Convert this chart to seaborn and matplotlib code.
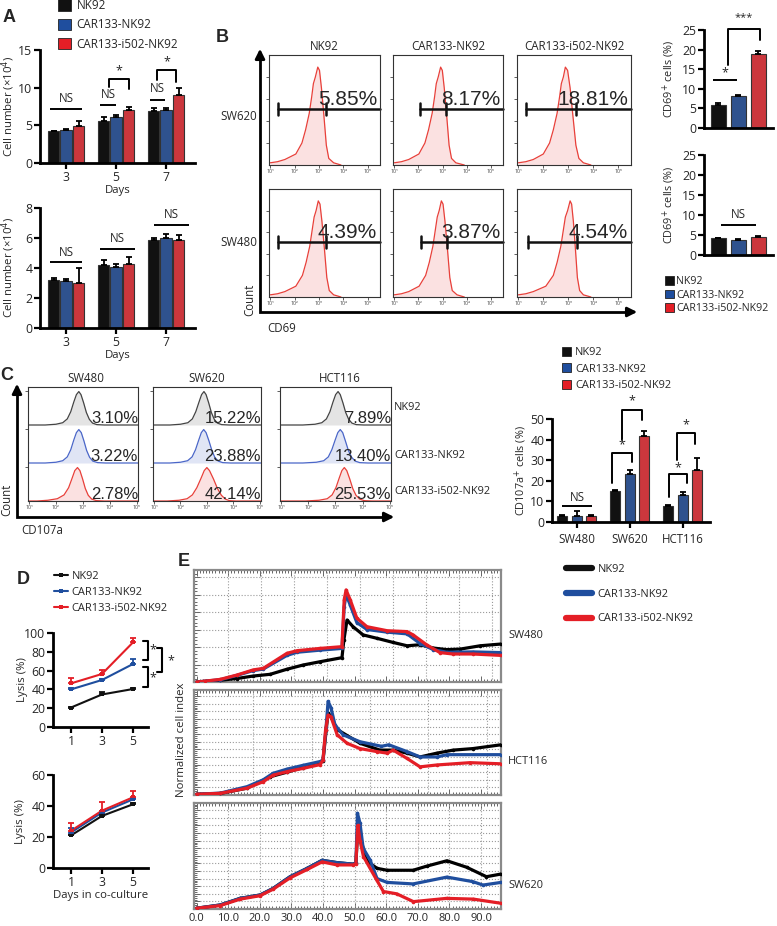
import numpy as np
import pandas as pd
import matplotlib
matplotlib.use('Agg')
import matplotlib.pyplot as plt
import seaborn as sns
from matplotlib.patches import Patch
from matplotlib.lines import Line2D
from matplotlib.ticker import MultipleLocator

sns.set_style('white')
plt.rcParams['font.family'] = ['Open Sans', 'DejaVu Sans']
plt.rcParams['mathtext.fontset'] = 'dejavusans'
plt.rcParams['axes.unicode_minus'] = False

# ------------------------------------------------------------------ data
GROUPS = ['NK92', 'CAR133-NK92', 'CAR133-i502-NK92']
COLORS = ['#111111', '#1f4e9e', '#e41e26']

# Panel A
A_DAYS = ['3', '5', '7']
A1_MEAN = [[4.2, 5.6, 6.9], [4.4, 6.05, 7.0], [4.9, 7.0, 9.0]]
A1_ERR = [[0.1, 0.5, 0.4], [0.1, 0.35, 0.3], [0.7, 0.5, 0.9]]
A2_MEAN = [[3.2, 4.2, 5.87], [3.15, 4.05, 5.98], [3.0, 4.3, 5.87]]
A2_ERR = [[0.15, 0.35, 0.15], [0.1, 0.25, 0.3], [1.0, 0.45, 0.3]]

# Panel B
B_ROWS = ['SW620', 'SW480']
B_PCT = [['5.85%', '8.17%', '18.81%'], ['4.39%', '3.87%', '4.54%']]
B_GATE_L = [[1.3, 2.06, 1.3], [1.3, 2.1, 1.4]]
B_GATE_M = [[3.3, 3.15, 3.3], [3.3, 3.2, 3.35]]
B_HIST_Y = [0.02, 0.03, 0.05, 0.10, 0.20, 0.32, 0.47, 0.62, 0.74, 0.80, 0.89, 0.86, 0.70, 0.45, 0.18, 0.06, 0.02, 0.0]
B_HIST_X = [
    [[1.0, 1.3, 1.6, 2.05, 2.3, 2.45, 2.6, 2.7, 2.77, 2.85, 2.95, 3.02, 3.1, 3.2, 3.3, 3.4, 3.6, 3.9],
     [1.0, 1.3, 1.6, 2.02, 2.27, 2.42, 2.57, 2.67, 2.74, 2.82, 2.92, 2.99, 3.07, 3.17, 3.27, 3.37, 3.55, 3.9],
     [1.0, 1.3, 1.6, 2.0, 2.25, 2.4, 2.55, 2.65, 2.72, 2.8, 2.88, 2.97, 3.07, 3.18, 3.3, 3.42, 3.6, 3.9]],
    [[1.0, 1.3, 1.6, 2.05, 2.32, 2.47, 2.62, 2.72, 2.8, 2.88, 2.97, 3.04, 3.12, 3.22, 3.32, 3.42, 3.6, 3.9],
     [1.0, 1.3, 1.6, 2.03, 2.3, 2.45, 2.6, 2.7, 2.78, 2.86, 2.95, 3.02, 3.1, 3.2, 3.3, 3.4, 3.6, 3.9],
     [1.0, 1.3, 1.6, 2.1, 2.4, 2.55, 2.7, 2.8, 2.88, 2.97, 3.07, 3.13, 3.2, 3.28, 3.36, 3.45, 3.6, 3.9]],
]
B_SW620_MEAN = [5.8, 8.1, 18.8]
B_SW620_ERR = [0.5, 0.2, 0.8]
B_SW480_MEAN = [4.3, 3.8, 4.5]
B_SW480_ERR = [0.05, 0.15, 0.2]

# Panel C
C_LINES = ['SW480', 'SW620', 'HCT116']
C_PCT = [['3.10%', '15.22%', '7.89%'], ['3.22%', '23.88%', '13.40%'], ['2.78%', '42.14%', '25.53%']]
C_HIST_Y = [0.0, 0.0, 0.02, 0.06, 0.16, 0.35, 0.6, 0.8, 0.88, 0.8, 0.58, 0.33, 0.15, 0.05, 0.01, 0.0, 0.0]
C_HIST_X = [  # [group][cell line]
    [[0.9, 1.6, 2.0, 2.25, 2.42, 2.55, 2.66, 2.76, 2.85, 2.93, 3.03, 3.13, 3.24, 3.36, 3.52, 3.8, 5.2],
     [0.9, 1.6, 2.0, 2.28, 2.45, 2.58, 2.7, 2.8, 2.89, 2.97, 3.07, 3.17, 3.28, 3.4, 3.56, 3.85, 5.2],
     [0.9, 1.8, 2.25, 2.5, 2.67, 2.8, 2.91, 3.01, 3.1, 3.18, 3.28, 3.38, 3.49, 3.61, 3.77, 4.05, 5.2]],
    [[0.9, 1.6, 2.0, 2.25, 2.42, 2.55, 2.66, 2.76, 2.85, 2.94, 3.04, 3.14, 3.25, 3.37, 3.55, 3.85, 5.2],
     [0.9, 1.6, 2.0, 2.27, 2.44, 2.57, 2.69, 2.79, 2.88, 2.97, 3.08, 3.19, 3.3, 3.43, 3.6, 3.9, 5.2],
     [0.9, 1.8, 2.3, 2.57, 2.74, 2.87, 2.99, 3.09, 3.18, 3.27, 3.37, 3.48, 3.6, 3.73, 3.9, 4.2, 5.2]],
    [[0.9, 1.3, 1.7, 2.05, 2.3, 2.47, 2.6, 2.7, 2.8, 2.89, 2.99, 3.09, 3.2, 3.33, 3.5, 3.8, 5.2],
     [0.9, 1.5, 1.95, 2.25, 2.45, 2.62, 2.78, 2.9, 3.0, 3.1, 3.25, 3.4, 3.55, 3.7, 3.85, 4.1, 5.2],
     [0.9, 1.9, 2.4, 2.7, 2.88, 3.02, 3.14, 3.24, 3.33, 3.42, 3.53, 3.64, 3.76, 3.9, 4.06, 4.35, 5.2]],
]
C_MEAN = [[2.9, 15.1, 7.7], [2.9, 23.5, 13.0], [2.8, 41.9, 25.1]]
C_ERR = [[0.3, 0.5, 0.5], [2.4, 1.5, 1.6], [0.4, 2.5, 5.9]]

# Panel D
D_DAYS = [1, 3, 5]
D1_MEAN = [[20.7, 34.6, 40.4], [40.0, 50.0, 67.0], [46.4, 56.4, 90.0]]
D1_ERR = [[0.8, 2.2, 1.6], [1.5, 1.5, 5.0], [5.4, 4.3, 4.6]]
D2_MEAN = [[21.0, 33.6, 41.1], [22.9, 35.8, 44.3], [24.0, 37.0, 45.6]]
D2_ERR = [[0.5, 1.0, 1.0], [3.1, 1.0, 1.0], [5.3, 5.4, 4.3]]

# Panel E (time in h, normalized cell index in grid units)
E_ROWS = ['SW480', 'HCT116', 'SW620']
E_T = [
    [[0, 7.5, 12.8, 17.9, 23.3, 28.6, 33.7, 39.1, 46.0, 46.6, 47.6, 49.5, 52.7, 57.0, 62.2, 66.6, 70.7, 74.9, 79.2, 83.4, 89.7, 96.3],
     [0, 7.5, 12.8, 17.9, 21.1, 28.6, 31.8, 39.1, 46.0, 46.7, 47.3, 48.6, 50.7, 53.9, 60.3, 66.6, 70.7, 74.9, 79.2, 87.4, 96.3],
     [0, 2.7, 7.5, 12.8, 17.9, 21.1, 28.6, 31.8, 39.1, 46.0, 46.7, 47.3, 48.6, 50.7, 53.9, 60.3, 66.6, 68.5, 72.9, 77.0, 81.1, 87.4, 96.3]],
    [[0, 7.5, 16.0, 23.3, 28.6, 33.7, 39.1, 40.0, 41.0, 41.6, 42.5, 44.5, 51.7, 58.0, 62.2, 66.6, 70.7, 76.0, 81.2, 87.4, 96.3],
     [0, 7.5, 16.0, 21.1, 24.2, 28.6, 33.7, 39.1, 40.0, 41.0, 41.6, 42.5, 43.8, 46.4, 51.7, 58.5, 60.8, 66.6, 70.7, 76.1, 79.2, 96.3],
     [0, 7.5, 16.0, 21.1, 24.2, 28.6, 33.7, 39.1, 40.0, 40.8, 41.6, 42.5, 44.5, 47.6, 51.7, 57.1, 60.3, 62.2, 66.6, 70.7, 76.1, 86.5, 96.3]],
    [[0, 7.5, 13.8, 20.1, 24.2, 29.6, 35.0, 39.7, 44.5, 49.5, 50.4, 51.0, 51.7, 53.9, 57.1, 60.3, 68.5, 72.9, 79.2, 85.4, 91.7, 96.3],
     [0, 7.5, 13.8, 20.1, 24.2, 29.6, 35.0, 39.7, 44.5, 49.5, 50.4, 50.9, 51.7, 52.7, 54.9, 57.1, 60.3, 68.5, 79.2, 87.4, 90.6, 96.3],
     [0, 7.5, 13.8, 20.1, 24.2, 29.6, 35.0, 39.7, 44.5, 49.5, 50.4, 51.0, 51.7, 52.8, 57.0, 59.1, 63.3, 68.6, 79.1, 87.6, 96.3]],
]
E_Y = [
    [[0.0, 0.1, 0.2, 0.34, 0.44, 0.73, 0.97, 1.16, 1.39, 2.4, 3.54, 3.16, 2.69, 2.5, 2.26, 2.07, 2.13, 1.94, 1.85, 1.88, 2.07, 2.17],
     [0.0, 0.13, 0.38, 0.65, 0.74, 1.52, 1.7, 1.82, 1.92, 4.3, 5.0, 4.4, 3.4, 3.0, 2.85, 2.75, 2.2, 1.85, 1.7, 1.72, 1.68],
     [0.0, 0.05, 0.15, 0.4, 0.69, 0.78, 1.64, 1.79, 1.92, 2.02, 4.7, 5.26, 4.7, 3.65, 3.16, 2.93, 2.88, 2.69, 2.11, 1.68, 1.6, 1.6, 1.52]],
    [[0.1, 0.2, 0.9, 2.4, 3.0, 3.6, 4.3, 4.5, 8.5, 10.8, 10.3, 8.6, 6.8, 5.9, 5.9, 5.5, 5.0, 5.5, 5.9, 6.1, 6.6],
     [0.1, 0.25, 1.1, 2.0, 2.85, 3.4, 3.9, 4.4, 4.6, 9.0, 12.3, 11.5, 9.2, 7.9, 7.0, 6.4, 6.6, 5.7, 5.0, 5.0, 5.3, 5.3],
     [0.1, 0.22, 0.9, 1.75, 2.6, 3.07, 3.5, 4.0, 4.6, 8.5, 10.5, 10.3, 7.9, 6.8, 6.1, 5.7, 5.5, 5.9, 4.8, 3.7, 3.95, 4.25, 4.1]],
    [[0.1, 0.53, 1.4, 1.84, 2.7, 4.25, 5.35, 6.4, 6.1, 5.9, 6.0, 10.5, 9.5, 6.3, 5.35, 5.1, 5.1, 5.65, 6.35, 5.5, 4.25, 4.6],
     [0.1, 0.53, 1.4, 1.84, 2.7, 4.25, 5.35, 6.4, 6.1, 5.9, 6.0, 12.6, 11.3, 8.0, 6.45, 4.0, 3.5, 3.3, 4.2, 3.6, 3.15, 3.5],
     [0.1, 0.45, 1.3, 1.75, 2.6, 4.1, 5.2, 6.2, 5.8, 5.8, 5.9, 11.0, 9.0, 6.9, 3.8, 2.3, 2.0, 0.97, 1.4, 1.3, 0.75]],
]
E_XTICKS = [0, 10, 20, 30, 40, 50, 60, 70, 80, 90]
E_XTICKLABELS = ['0.0', '10.0', '20.0', '30.0', '40.0', '50.0', '60.0', '70.0', '80.0', '90.0']

# ------------------------------------------------------------------ figure
W, H = 777, 926
fig = plt.figure(figsize=(W / 100, H / 100), dpi=100)

TICK_FS = 8.8
LABEL_FS = 7.8
LEG_FS = 7.9


def add_ax(x0, y0, x1, y1):
    ax = fig.add_axes([x0 / W, 1 - y1 / H, (x1 - x0) / W, (y1 - y0) / H])
    ax.set_facecolor('none')
    ax._px = (x0, x1)
    return ax


def place_ylabel(ax, text, xpx_right, fs=LABEL_FS):
    # xpx_right: pixel x of the label's right edge
    ax.set_ylabel(text, fontsize=fs)
    x0, x1 = ax._px
    ax.yaxis.set_label_coords((xpx_right - x0) / (x1 - x0), 0.5)


def style_bar_ax(ax, ylim, yticks, xlim):
    ax.set_ylim(*ylim)
    ax.set_xlim(*xlim)
    ax.set_yticks(yticks)
    sns.despine(ax=ax)
    for s in ('left', 'bottom'):
        ax.spines[s].set_linewidth(2.0)
        ax.spines[s].set_color('k')
    ax.tick_params(axis='both', direction='out', length=4, width=1.6, labelsize=TICK_FS,
                   pad=1.5, color='k', bottom=True, left=True)
    ax.set_xlabel('')
    ax.set_ylabel('')


def add_errs(ax, errs):
    for cont, es in zip(ax.containers, errs):
        for bar, e in zip(cont, es):
            x = bar.get_x() + bar.get_width() / 2
            h = bar.get_height()
            ax.errorbar([x], [h], yerr=[[0], [e]], fmt='none', ecolor='k', elinewidth=1.3,
                        capsize=2.5, capthick=1.3, zorder=4)


def grouped_bars(ax, cats, means, errs, width, gap):
    rows = []
    for g, m in zip(GROUPS, means):
        for c, v in zip(cats, m):
            rows.append((c, g, v))
    df = pd.DataFrame(rows, columns=['cat', 'group', 'val'])
    sns.barplot(data=df, x='cat', y='val', hue='group', order=cats, hue_order=GROUPS,
                palette=COLORS, width=width, gap=gap, errorbar=None, edgecolor='#333333',
                linewidth=0.8, legend=False, ax=ax)
    add_errs(ax, errs)


def single_bars(ax, means, errs):
    df = pd.DataFrame({'group': GROUPS, 'val': means})
    sns.barplot(data=df, x='group', y='val', hue='group', order=GROUPS, hue_order=GROUPS,
                palette=COLORS, width=0.75, errorbar=None, edgecolor='#333333', linewidth=0.8,
                legend=False, ax=ax)
    add_errs(ax, [[e] for e in errs])


def sig_line(ax, x0, x1, y, txt, ty, fs=8.3):
    ax.plot([x0, x1], [y, y], color='k', lw=1.4, clip_on=False, solid_capstyle='butt')
    ax.text((x0 + x1) / 2, ty, txt, ha='center', va='center', fontsize=fs, clip_on=False)


def sig_bracket(ax, x0, x1, yl, ytop, yr, txt, ty, fs=9):
    ax.plot([x0, x0, x1, x1], [yl, ytop, ytop, yr], color='k', lw=1.4, clip_on=False)
    ax.text((x0 + x1) / 2, ty, txt, ha='center', va='center', fontsize=fs, clip_on=False)


# ---------------- Panel A
axA1 = add_ax(40, 50, 195, 163)
grouped_bars(axA1, A_DAYS, A1_MEAN, A1_ERR, width=0.75, gap=0.05)
style_bar_ax(axA1, (0, 15), [0, 5, 10, 15], (-0.52, 2.58))
axA1.set_xlabel('Days', fontsize=LABEL_FS + 0.4, labelpad=1)
place_ylabel(axA1, 'Cell number (×10$^4$)', 17, fs=8.2)
sig_line(axA1, -0.32, 0.32, 7.2, 'NS', 8.6)
sig_line(axA1, 0.68, 1.0, 7.7, 'NS', 9.1)
sig_bracket(axA1, 0.85, 1.25, 10.1, 11.2, 9.8, '*', 12.2)
sig_line(axA1, 1.68, 1.98, 8.4, 'NS', 9.9)
sig_bracket(axA1, 1.82, 2.2, 11.0, 12.4, 10.8, '*', 13.4)

axA2 = add_ax(40, 208, 195, 328)
grouped_bars(axA2, A_DAYS, A2_MEAN, A2_ERR, width=0.75, gap=0.05)
style_bar_ax(axA2, (0, 8), [0, 2, 4, 6, 8], (-0.52, 2.58))
axA2.set_xlabel('Days', fontsize=LABEL_FS + 0.4, labelpad=1)
place_ylabel(axA2, 'Cell number (×10$^4$)', 17, fs=8.2)
sig_line(axA2, -0.32, 0.32, 4.4, 'NS', 5.0)
sig_line(axA2, 0.68, 1.38, 5.3, 'NS', 5.95)
sig_line(axA2, 1.76, 2.46, 6.9, 'NS', 7.55)

fig.legend(handles=[Patch(fc=c, ec='#222222', lw=0.6) for c in COLORS], labels=GROUPS,
           loc='upper left', bbox_to_anchor=(58 / W, 1 + 1 / H), frameon=False, fontsize=8.4,
           handlelength=1.1, handleheight=1.1, labelspacing=0.55, handletextpad=0.5,
           borderpad=0, borderaxespad=0)

# ---------------- Panel B histograms
B_COLS = [(269, 380), (393, 503), (517, 631)]
B_ROWY = [(55, 165), (189, 297)]
HIST_TICKS = [10, 100, 1000, 10000, 100000]
HIST_TICKLABELS = ['10¹', '10²', '10³', '10⁴', '10⁵']
for r in range(2):
    for c in range(3):
        ax = add_ax(B_COLS[c][0], B_ROWY[r][0], B_COLS[c][1], B_ROWY[r][1])
        xs = 10 ** np.array(B_HIST_X[r][c])
        ax.fill_between(xs, B_HIST_Y, color='#fbe1e1', lw=0)
        ax.plot(xs, B_HIST_Y, color='#e8403a', lw=0.9)
        ax.set_xscale('log')
        ax.set_xlim(10 ** 0.95, 10 ** 5.5)
        ax.set_ylim(0, 1.0)
        ax.set_xticks(HIST_TICKS)
        ax.set_xticklabels(HIST_TICKLABELS, fontsize=3.8, color='#444444')
        ax.xaxis.set_minor_locator(matplotlib.ticker.NullLocator())
        ax.set_yticks([0.2, 0.4, 0.6, 0.8])
        ax.set_yticklabels([])
        ax.tick_params(length=2, width=0.6, pad=1, left=True, bottom=True, color='#444444')
        for s in ax.spines.values():
            s.set_linewidth(0.8)
            s.set_color('#333333')
        gl, gm = 10 ** B_GATE_L[r][c], 10 ** B_GATE_M[r][c]
        ax.plot([gl, 10 ** 5.5], [0.51, 0.51], color='#111111', lw=1.8, clip_on=False)
        ax.plot([gl, gl], [0.455, 0.565], color='#111111', lw=1.8)
        ax.plot([gm, gm], [0.455, 0.565], color='#111111', lw=1.8)
        ax.text(0.975, 0.545, B_PCT[r][c], transform=ax.transAxes, ha='right', va='baseline',
                fontsize=15, family='Liberation Sans')

# ---------------- Panel B bars
axB1 = add_ax(704, 30, 773, 128)
single_bars(axB1, B_SW620_MEAN, B_SW620_ERR)
style_bar_ax(axB1, (0, 25), [0, 5, 10, 15, 20, 25], (-0.7, 2.75))
axB1.set_xticks([])
place_ylabel(axB1, 'CD69$^{+}$ cells (%)', 677)
sig_line(axB1, -0.25, 0.95, 12.2, '*', 14.2, fs=9)
sig_bracket(axB1, 0.5, 2.1, 16.0, 25.2, 22.4, '***', 28.2, fs=8)

axB2 = add_ax(704, 155, 773, 255)
single_bars(axB2, B_SW480_MEAN, B_SW480_ERR)
style_bar_ax(axB2, (0, 25), [0, 5, 10, 15, 20, 25], (-0.7, 2.75))
axB2.set_xticks([])
place_ylabel(axB2, 'CD69$^{+}$ cells (%)', 677)
sig_line(axB2, 0.15, 1.9, 7.5, 'NS', 10.0)

fig.legend(handles=[Patch(fc=c, ec='#222222', lw=0.6) for c in COLORS], labels=GROUPS,
           loc='upper left', bbox_to_anchor=(665 / W, 1 - 276 / H), frameon=False, fontsize=7.7,
           handlelength=0.85, handleheight=0.85, labelspacing=0.25, handletextpad=0.2,
           borderpad=0, borderaxespad=0)

# ---------------- Panel C histograms
C_COLS = [(28, 138), (153, 261), (280, 391)]
C_LINE = ['#444444', '#4a66c8', '#e8403a']
C_FILL = ['#e4e4e4', '#e0e5f5', '#fbe1e1']
for c in range(3):
    ax = add_ax(C_COLS[c][0], 387, C_COLS[c][1], 501)
    for g in range(3):
        off = 2 - g
        xs = 10 ** np.array(C_HIST_X[g][c])
        ys = off + np.array(C_HIST_Y)
        ax.fill_between(xs, off, ys, color=C_FILL[g], lw=0)
        ax.plot(xs, ys, color=C_LINE[g], lw=0.9)
        ax.text(1.0, off + 0.06, C_PCT[g][c], transform=ax.get_yaxis_transform(), ha='right',
                va='baseline', fontsize=12, family='Liberation Sans')
    ax.set_xscale('log')
    ax.set_xlim(10 ** 0.96, 10 ** 5.05)
    ax.set_ylim(0, 3)
    ax.set_xticks(HIST_TICKS)
    ax.set_xticklabels(HIST_TICKLABELS, fontsize=3.8, color='#444444')
    ax.xaxis.set_minor_locator(matplotlib.ticker.NullLocator())
    ax.set_yticks([0.9, 1.9, 2.9])
    ax.set_yticklabels([])
    ax.tick_params(length=2, width=0.6, pad=1, left=True, bottom=True, color='#444444')
    for s in ax.spines.values():
        s.set_linewidth(0.8)
        s.set_color('#333333')

# ---------------- Panel C bars
axC = add_ax(552, 419, 710, 522)
grouped_bars(axC, C_LINES, C_MEAN, C_ERR, width=0.82, gap=0.31)
style_bar_ax(axC, (0, 50), [0, 10, 20, 30, 40, 50], (-0.47, 2.51))
axC.tick_params(axis='x', labelsize=8.3, pad=4)
place_ylabel(axC, 'CD107a$^{+}$ cells (%)', 529)
sig_line(axC, -0.28, 0.28, 7.7, 'NS', 11.8)
sig_bracket(axC, 0.66, 1.04, 19.0, 33.5, 29.0, '*', 37.5)
sig_bracket(axC, 0.85, 1.23, 40.0, 54.6, 49.6, '*', 58.8)
sig_bracket(axC, 1.74, 2.07, 12.2, 23.2, 18.7, '*', 26.5)
sig_bracket(axC, 1.89, 2.23, 30.3, 43.1, 38.0, '*', 47.2)

fig.legend(handles=[Patch(fc=c, ec='#222222', lw=0.6) for c in COLORS], labels=GROUPS,
           loc='upper left', bbox_to_anchor=(562 / W, 1 - 347 / H), frameon=False, fontsize=LEG_FS,
           handlelength=0.85, handleheight=0.85, labelspacing=0.48, handletextpad=0.35,
           borderpad=0, borderaxespad=0)

# ---------------- Panel D
def lysis_plot(ax, means, errs):
    rows = []
    for g, m in zip(GROUPS, means):
        for d, v in zip(D_DAYS, m):
            rows.append((d, g, v))
    df = pd.DataFrame(rows, columns=['day', 'group', 'val'])
    sns.lineplot(data=df, x='day', y='val', hue='group', hue_order=GROUPS, palette=COLORS,
                 marker='s', markersize=3.5, markeredgewidth=0, lw=1.5, errorbar=None,
                 legend=False, ax=ax)
    for g, (m, e) in enumerate(zip(means, errs)):
        ax.errorbar(D_DAYS, m, yerr=[[0] * len(e), e], fmt='none', ecolor=COLORS[g],
                    elinewidth=1.3, capsize=2.5, capthick=1.3)


axD1 = add_ax(53, 633, 148, 727)
lysis_plot(axD1, D1_MEAN, D1_ERR)
style_bar_ax(axD1, (0, 100), [0, 20, 40, 60, 80, 100], (-0.16, 5.97))
axD1.set_xticks(D_DAYS)
place_ylabel(axD1, 'Lysis (%)', 28, fs=8.2)
for (yt, yb) in [(91.8, 71.3), (63.5, 42.9)]:
    axD1.plot([5.65, 5.97, 5.97, 5.65], [yt, yt, yb, yb], color='k', lw=1.5, clip_on=False)
axD1.text(6.3, 82, '*', fontsize=9, ha='center', va='center', clip_on=False)
axD1.text(6.3, 52, '*', fontsize=9, ha='center', va='center', clip_on=False)
axD1.plot([6.55, 6.9, 6.9, 6.55], [84, 84, 58.5, 58.5], color='k', lw=1.5, clip_on=False)
axD1.text(7.45, 70, '*', fontsize=9, ha='center', va='center', clip_on=False)

axD2 = add_ax(53, 775, 148, 868)
lysis_plot(axD2, D2_MEAN, D2_ERR)
style_bar_ax(axD2, (0, 60), [0, 20, 40, 60], (-0.16, 5.97))
axD2.set_xticks(D_DAYS)
place_ylabel(axD2, 'Lysis (%)', 26, fs=8.2)
axD2.set_xlabel('Days in co-culture', fontsize=LABEL_FS + 0.4, labelpad=1)

fig.legend(handles=[Line2D([], [], color=c, lw=1.5, marker='s', markersize=3, markeredgewidth=0)
                    for c in COLORS], labels=GROUPS,
           loc='upper left', bbox_to_anchor=(54 / W, 1 - 571 / H), frameon=False, fontsize=LEG_FS,
           handlelength=1.3, labelspacing=0.45, handletextpad=0.3, borderpad=0, borderaxespad=0)

# ---------------- Panel E
E_BOX = [(570, 682), (690, 795), (803, 909)]
E_YLIM = [6.4, 13.8, 13.95]
E_VGRID = [[10, 20.4, 30.8, 41.3, 51.7, 62.2, 72.6, 83.1, 93.5],
           [17.9, 36.5, 54.9, 73.3, 91.9],
           [10, 20, 30, 40, 50, 60, 70, 80, 90]]
E_ORDER = [[0, 1, 2], [0, 1, 2], [2, 0, 1]]
E_MINOR_Y = [0.2, 0.25, 0.25]
for p in range(3):
    ax = add_ax(194, E_BOX[p][0], 501, E_BOX[p][1])
    for g in E_ORDER[p]:
        sns.lineplot(x=E_T[p][g], y=E_Y[p][g], ax=ax, color=COLORS[g] if g else '#000000',
                     lw=2.3, marker='o', markersize=2.6, markeredgewidth=0, zorder=3 + g)
    ax.set_xlim(-0.8, 96.3)
    ax.set_ylim(0, E_YLIM[p])
    ax.yaxis.set_major_locator(MultipleLocator(1))
    ax.yaxis.set_minor_locator(MultipleLocator(E_MINOR_Y[p]))
    ax.xaxis.set_minor_locator(MultipleLocator(1))
    ax.grid(axis='y', ls=':', color='#9a9a9a', lw=0.8)
    for v in E_VGRID[p]:
        ax.axvline(v, ls=':', color='#9a9a9a', lw=0.8, zorder=1)
    ax.set_xticks(E_XTICKS)
    ax.tick_params(axis='both', which='both', direction='in', top=True, bottom=True, left=True,
                   right=False, color='#666666', width=0.7)
    ax.tick_params(which='major', length=4)
    ax.tick_params(which='minor', length=2.5)
    ax.tick_params(labelleft=False)
    if p == 2:
        ax.set_xticklabels(E_XTICKLABELS, fontsize=8)
        ax.tick_params(axis='x', pad=3)
    else:
        ax.tick_params(labelbottom=False)
    for s in ax.spines.values():
        s.set_linewidth(1.6)
        s.set_color('#8a8a8a')
    ax.set_xlabel('')
    ax.set_ylabel('')

fig.text(508 / W, 1 - 635 / H, 'SW480', fontsize=LEG_FS, va='center')
fig.text(508 / W, 1 - 761 / H, 'HCT116', fontsize=LEG_FS, va='center')
fig.text(508 / W, 1 - 886 / H, 'SW620', fontsize=LEG_FS, va='center')
fig.text(181 / W, 1 - 740 / H, 'Normalized cell index', fontsize=8.2, rotation=90,
         ha='center', va='center')

fig.legend(handles=[Line2D([], [], color=c, lw=4.5) for c in COLORS], labels=GROUPS,
           loc='upper left', bbox_to_anchor=(566 / W, 1 - 564 / H), frameon=False, fontsize=LEG_FS,
           handlelength=2.4, labelspacing=1.25, handletextpad=0.5, borderpad=0, borderaxespad=0)

# ---------------- overlay: panel letters, frames, labels
ov = fig.add_axes([0, 0, 1, 1])
ov.set_xlim(0, W)
ov.set_ylim(H, 0)
ov.axis('off')

for letter, (x, y) in zip('ABCDE', [(9, 18), (222, 38), (7, 375), (23, 580), (184, 562)]):
    ov.text(x, y, letter, fontsize=13, fontweight='bold', ha='center', va='center',
            family='Liberation Sans')

# panel B frame
ov.plot([260, 260, 628], [58, 312, 312], color='k', lw=2, solid_joinstyle='miter')
ov.annotate('', xy=(260, 46), xytext=(260, 62),
            arrowprops=dict(arrowstyle='-|>', color='k', lw=2, mutation_scale=14))
ov.annotate('', xy=(640, 312), xytext=(624, 312),
            arrowprops=dict(arrowstyle='-|>', color='k', lw=2, mutation_scale=14))
for name, x in zip(GROUPS, [324, 448, 574]):
    ov.text(x, 46, name, fontsize=8.3, ha='center', va='center')
ov.text(257, 117, 'SW620', fontsize=8.3, ha='right', va='center')
ov.text(257, 243, 'SW480', fontsize=8.3, ha='right', va='center')
ov.text(250, 300, 'Count', fontsize=8.3, rotation=90, ha='center', va='center')
ov.text(267, 329, 'CD69', fontsize=8.3, ha='left', va='center')

# panel C frame
ov.plot([17, 17, 384], [393, 517, 517], color='k', lw=2, solid_joinstyle='miter')
ov.annotate('', xy=(17, 381), xytext=(17, 396),
            arrowprops=dict(arrowstyle='-|>', color='k', lw=2, mutation_scale=14))
ov.annotate('', xy=(397, 517), xytext=(382, 517),
            arrowprops=dict(arrowstyle='-|>', color='k', lw=2, mutation_scale=14))
for name, x in zip(C_LINES, [86, 207, 340]):
    ov.text(x, 379, name, fontsize=8.3, ha='center', va='center')
for name, y in zip(GROUPS, [407, 455, 492]):
    ov.text(394, y, name, fontsize=LEG_FS, ha='left', va='center')
ov.text(7, 500, 'Count', fontsize=8.3, rotation=90, ha='center', va='center')
ov.text(21, 530, 'CD107a', fontsize=8.3, ha='left', va='center')

fig.savefig('out.png', dpi=100)
